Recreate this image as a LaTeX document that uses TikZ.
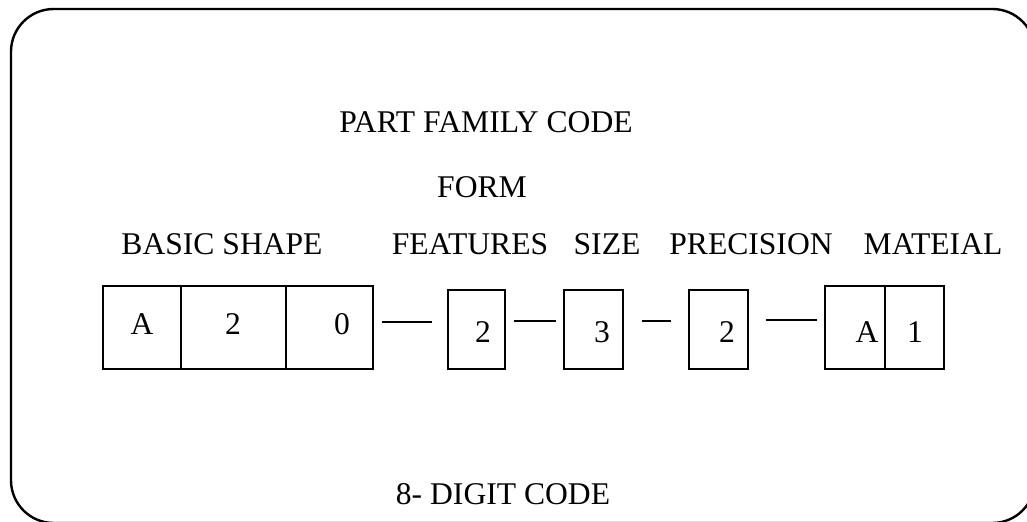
\documentclass[tikz,border=0pt]{standalone}
\usepackage{fontspec}
\setmainfont{Liberation Serif}
\begin{document}
\begin{tikzpicture}[x=0.75pt,y=-0.75pt,
  cell/.style={draw,line width=1.1pt,inner sep=0pt,outer sep=0pt},
  lbl/.style={anchor=base,inner sep=0pt,font=\fontsize{23.7}{28}\selectfont},
  dig/.style={anchor=base,inner sep=0pt,font=\fontsize{23.7}{28}\selectfont},
  dashc/.style={line width=1.1pt}]
\useasboundingbox (0,0) rectangle (1027,521);
\draw[line width=1.8pt,rounded corners=32pt] (11,9) rectangle (1035,523);
% labels
\node[lbl] (title) at (486,132) {PART FAMILY CODE};
\node[lbl] (form) at (482,197) {FORM};
\node[lbl] (basic) at (222,254) {BASIC SHAPE};
\node[lbl] (feat) at (470,254) {FEATURES};
\node[lbl] (size) at (607,254) {SIZE};
\node[lbl] (prec) at (751,254) {PRECISION};
\node[lbl] (mat) at (933,254) {MATEIAL};
\node[lbl] (code) at (503,504) {8- DIGIT CODE};
% cells (group 1 and material: top 286, bottom 369; single boxes: top 290)
\node[cell,minimum width=58.5pt,minimum height=62.25pt] (c1) at (142,327.5) {};
\node[cell,minimum width=78.75pt,minimum height=62.25pt] (c2) at (233.5,327.5) {};
\node[cell,minimum width=65.25pt,minimum height=62.25pt] (c3) at (329.5,327.5) {};
\node[cell,minimum width=42.75pt,minimum height=59.25pt] (b2) at (476.5,329.5) {};
\node[cell,minimum width=44.25pt,minimum height=59.25pt] (b3) at (593.5,329.5) {};
\node[cell,minimum width=44.25pt,minimum height=59.25pt] (b4) at (718.5,329.5) {};
\node[cell,minimum width=45pt,minimum height=62.25pt] (m1) at (855,327.5) {};
\node[cell,minimum width=44.25pt,minimum height=62.25pt] (m2) at (914.5,327.5) {};
% digits
\node[dig] (d1) at (142,334) {A};
\node[dig] (d2) at (233,334) {2};
\node[dig] (d3) at (342,334) {0};
\node[dig] (d4) at (483,342) {2};
\node[dig] (d5) at (602,342) {3};
\node[dig] (d6) at (727,342) {2};
\node[dig] (d7) at (867,342) {A};
\node[dig] (d8) at (915,342) {1};
% connectors
\draw[dashc] ([shift={(9,36)}]c3.north east) -- ([shift={(-16,32)}]b2.north west);
\draw[dashc] ([shift={(9,31)}]b2.north east) -- ([shift={(-8,31)}]b3.north west);
\draw[dashc] ([shift={(19,31)}]b3.north east) -- ([shift={(-18,31)}]b4.north west);
\draw[dashc] ([shift={(18,30)}]b4.north east) -- ([shift={(-8,34)}]m1.north west);
\end{tikzpicture}
\end{document}
